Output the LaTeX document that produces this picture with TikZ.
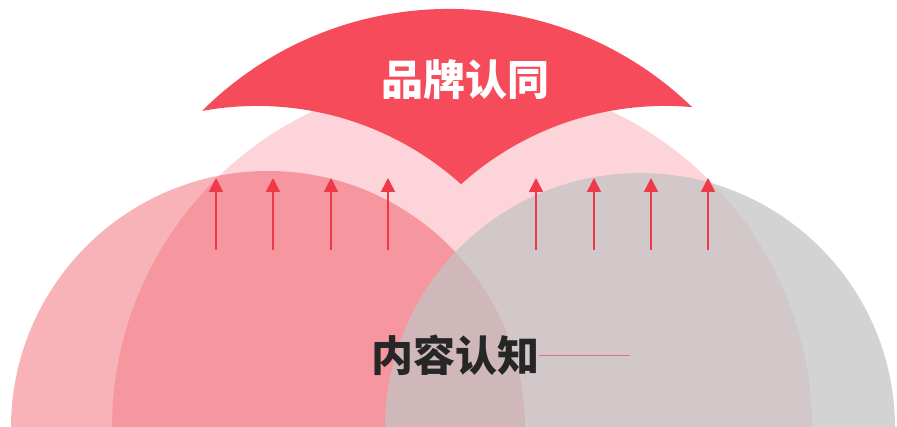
\documentclass[tikz,border=0pt]{standalone}
\usepackage{fontspec}
\newfontfamily\cjk{Noto Sans CJK SC}
\usetikzlibrary{arrows.meta}
\definecolor{pinkbg}{RGB}{253,212,217}
\definecolor{leftred}{RGB}{232,20,38}
\definecolor{graycirc}{RGB}{196,196,196}
\definecolor{wingred}{RGB}{246,75,90}
\definecolor{arrowred}{RGB}{239,56,72}
\definecolor{darktext}{RGB}{38,38,38}
\begin{document}
\begin{tikzpicture}[x=1pt,y=1pt,
  upar/.style={draw=arrowred, fill=arrowred, line width=1.6pt, -{Triangle[width=14pt,length=14pt]}},
  bigtext/.style={font=\cjk\bfseries\fontsize{42}{42}\selectfont, inner sep=0pt}]
\useasboundingbox (0,0) rectangle (897,426);
\begin{scope}
  \clip (0,0) rectangle (897,426);
  \fill[pinkbg] (462,-2) circle[radius=350];
  \fill[leftred, opacity=0.32] (268,-2) circle[radius=257];
  \fill[graycirc, opacity=0.75] (640,-2) circle[radius=255];
  \fill[wingred] (202,315) arc[start angle=134.9, end angle=46.0, radius=350]
     arc[start angle=84.9, end angle=131.98, radius=305]
     arc[start angle=48.02, end angle=100.4, radius=305] -- cycle;
\end{scope}
% arrows
\foreach \i/\x in {1/216,2/273,3/331,4/388,5/536,6/594,7/651,8/708}{
  \coordinate (s\i) at (\x,176);
  \coordinate (e\i) at (\x,248);
  \draw[upar] (s\i) -- (e\i);
}
\node[bigtext, text=white] (brand) at (465,346) {品牌认同};
\node[bigtext, text=darktext] (content) at (455,71) {内容认知};
\coordinate (lineend) at (630,69);
\draw[draw=arrowred, line width=0.9pt, opacity=0.6] (content.east) -- (content.east -| lineend);
\end{tikzpicture}
\end{document}
